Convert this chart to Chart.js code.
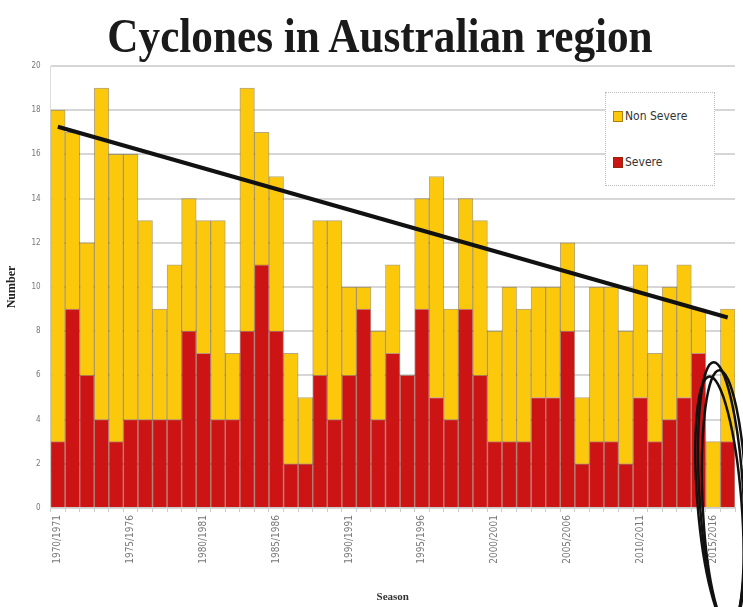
<!DOCTYPE html>
<html>
<head>
<meta charset="utf-8">
<title>Cyclones in Australian region</title>
<script src="https://cdn.jsdelivr.net/npm/chart.js@4"></script>
<style>
  html, body { margin: 0; padding: 0; background: #fff; }
  #wrap { position: relative; width: 743px; height: 607px; }
  #heading {
    position: absolute; left: 0; top: 6px; width: 760px; margin: 0;
    text-align: center; transform: scaleX(0.9); transform-origin: 380px 0;
    font-family: "Liberation Serif", serif; font-weight: bold; font-size: 48px;
    color: #1a1a1a; line-height: 60px; white-space: nowrap;
  }
  #legendBox {
    position: absolute; left: 605px; top: 92px; width: 108px; height: 92px;
    background: #fff; border: 1px dotted #bbb;
    font-family: "Liberation Sans Narrow", "DejaVu Sans Condensed", sans-serif;
    font-size: 12px; color: #333;
  }
  .item { position: absolute; left: 7px; display: flex; align-items: center; }
  .swatch { width: 8px; height: 9px; margin-right: 2px; border: 1px solid rgba(90,60,0,0.5); }
</style>
</head>
<body>
<div id="wrap">
  <canvas id="cyclones" width="743" height="607"></canvas>
  <h1 id="heading">Cyclones in Australian region</h1>
  <div id="legendBox">
    <div class="item" style="top:16px"><span class="swatch" style="background:#fcc80c"></span>Non Severe</div>
    <div class="item" style="top:62px"><span class="swatch" style="background:#cc1414"></span>Severe</div>
  </div>
</div>
<script>
const seasons = [
  "1970/1971", "1971/1972", "1972/1973", "1973/1974", "1974/1975",
  "1975/1976", "1976/1977", "1977/1978", "1978/1979", "1979/1980",
  "1980/1981", "1981/1982", "1982/1983", "1983/1984", "1984/1985",
  "1985/1986", "1986/1987", "1987/1988", "1988/1989", "1989/1990",
  "1990/1991", "1991/1992", "1992/1993", "1993/1994", "1994/1995",
  "1995/1996", "1996/1997", "1997/1998", "1998/1999", "1999/2000",
  "2000/2001", "2001/2002", "2002/2003", "2003/2004", "2004/2005",
  "2005/2006", "2006/2007", "2007/2008", "2008/2009", "2009/2010",
  "2010/2011", "2011/2012", "2012/2013", "2013/2014", "2014/2015",
  "2015/2016", "2016/2017"
];

const severe = [3, 9, 6, 4, 3, 4, 4, 4, 4, 8, 7, 4, 4, 8, 11, 8, 2, 2, 6, 4,
  6, 9, 4, 7, 6, 9, 5, 4, 9, 6, 3, 3, 3, 5, 5, 8, 2, 3, 3, 2, 5, 3, 4, 5, 7, 0, 3];

const nonSevere = [15, 8, 6, 15, 13, 12, 9, 5, 7, 6, 6, 9, 3, 11, 6, 7, 5, 3, 7, 9,
  4, 1, 4, 4, 0, 5, 10, 5, 5, 7, 5, 7, 6, 5, 5, 4, 3, 7, 7, 6, 6, 4, 6, 6, 2, 3, 6];

// trend line: only the two end points, joined straight across
const trend = seasons.map(() => null);
trend[0] = 17.25;
trend[seasons.length - 1] = 8.62;

const yTicks = [0, 2, 4, 6, 8, 10, 12, 14, 16, 18, 20];

// hand-drawn loop around the last two seasons
const loopPlugin = {
  id: "loop",
  afterDatasetsDraw(chart) {
    const { ctx, scales: { x, y } } = chart;
    const n = seasons.length;
    const cx = (x.getPixelForValue(n - 2) + x.getPixelForValue(n - 1)) / 2 + 1;
    const top = y.getPixelForValue(6.6);
    const bottom = y.getPixelForValue(0) + 120;
    const cy = (top + bottom) / 2;
    const ry = (bottom - top) / 2;
    const rx = 22;
    ctx.save();
    ctx.strokeStyle = "#111";
    ctx.lineWidth = 2.5;
    [[-0.06, 0, 0], [-0.04, 3, 4], [-0.08, -2, 7]].forEach(([rot, dx, dy]) => {
      ctx.beginPath();
      ctx.ellipse(cx + dx, cy + dy, rx, ry - dy, rot, 0, Math.PI * 2);
      ctx.stroke();
    });
    ctx.restore();
  }
};

const ctx = document.getElementById("cyclones").getContext("2d");
new Chart(ctx, {
  type: "bar",
  data: {
    labels: seasons,
    datasets: [
      {
        type: "line",
        label: "Trend",
        data: trend,
        spanGaps: true,
        borderColor: "#111",
        borderWidth: 4,
        pointRadius: 0,
        order: 0
      },
      {
        label: "Severe",
        data: severe,
        backgroundColor: "#cc1414",
        borderColor: "rgba(110,20,0,0.45)",
        borderWidth: 1,
        stack: "s",
        order: 2
      },
      {
        label: "Non Severe",
        data: nonSevere,
        backgroundColor: "#fcc80c",
        borderColor: "rgba(110,80,0,0.5)",
        borderWidth: 1,
        stack: "s",
        order: 2
      }
    ]
  },
  options: {
    responsive: false,
    animation: false,
    layout: { padding: { left: 1, right: 8, top: 66, bottom: 3 } },
    datasets: { bar: { barPercentage: 1, categoryPercentage: 1 } },
    plugins: {
      legend: { display: false },
      tooltip: { enabled: false },
      title: { display: false }
    },
    scales: {
      x: {
        stacked: true,
        grid: { display: true, drawOnChartArea: false, tickLength: 4, color: "#ccc" },
        border: { color: "#ccc" },
        ticks: {
          autoSkip: false,
          minRotation: 90,
          maxRotation: 90,
          color: "#777",
          font: { family: "DejaVu Sans Condensed", size: 10 },
          callback: (v, i) => (i % 5 === 0 ? seasons[i] : "")
        },
        title: {
          display: true,
          text: "Season",
          color: "#333",
          font: { family: "Liberation Sans Narrow", size: 11, weight: "bold" },
          padding: { top: 24, bottom: 0 }
        }
      },
      y: {
        stacked: true,
        min: 0,
        max: 20,
        afterBuildTicks: (axis) => { axis.ticks = yTicks.map((v) => ({ value: v })); },
        grid: { color: "#d6d6d6", lineWidth: 2, drawTicks: false },
        border: { color: "#ddd" },
        ticks: {
          color: "#777",
          padding: 10,
          font: { family: "DejaVu Sans Condensed", size: 8 }
        },
        title: {
          display: true,
          text: "Number",
          color: "#222",
          font: { family: "Liberation Serif", size: 12, weight: "bold" },
          padding: { bottom: 2 }
        }
      }
    }
  },
  plugins: [loopPlugin]
});
</script>
</body>
</html>
